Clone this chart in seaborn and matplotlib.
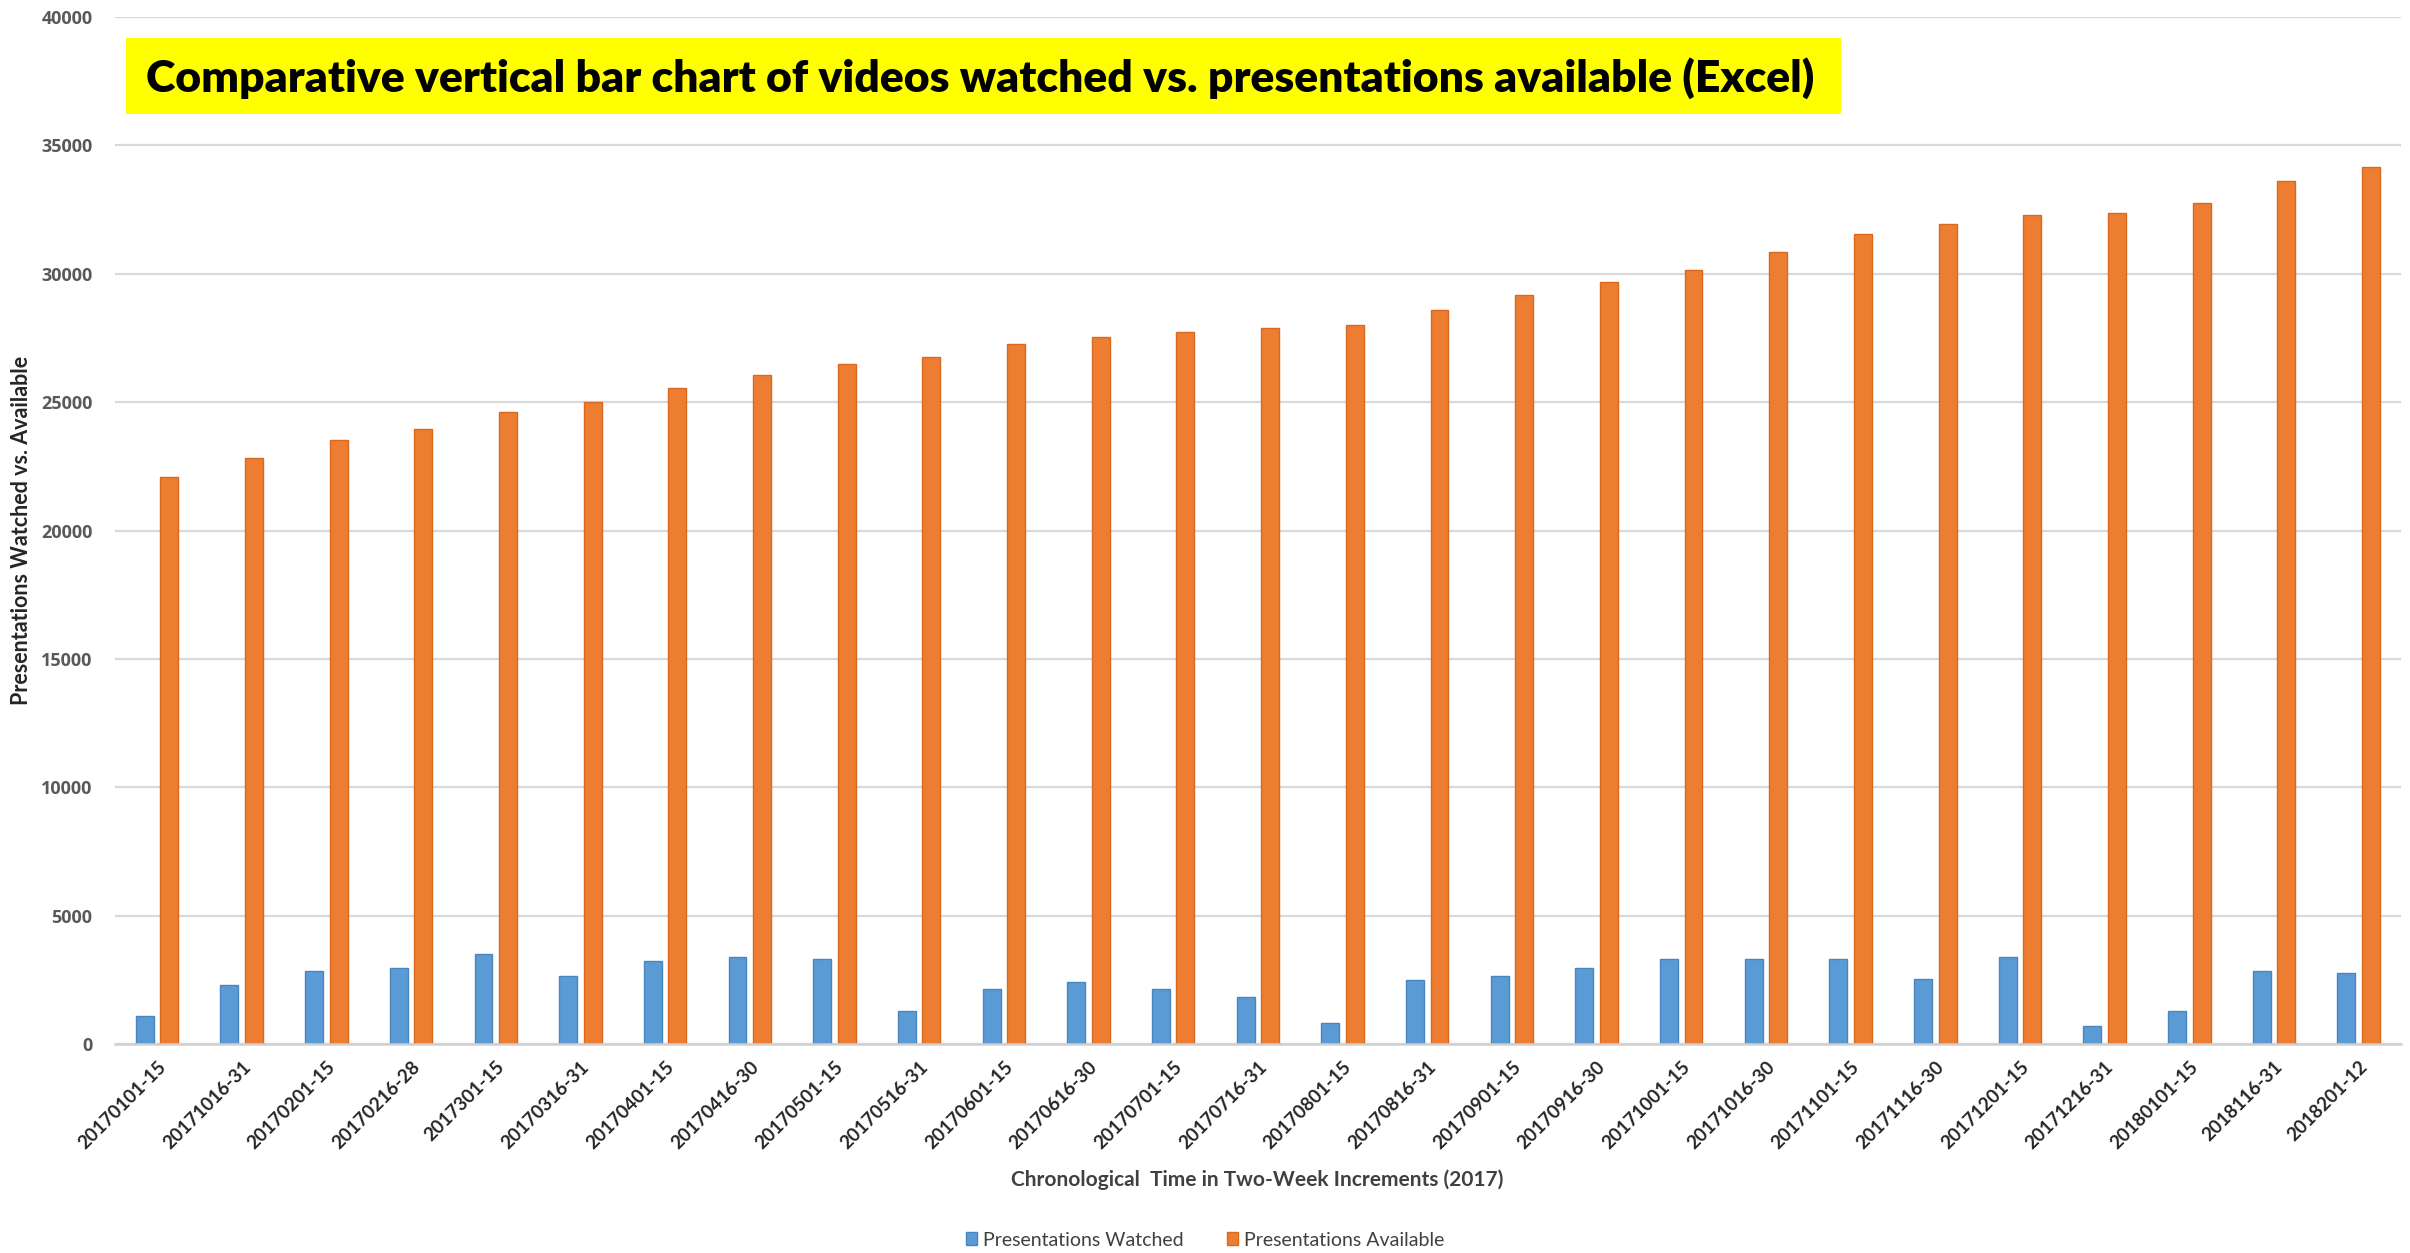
import matplotlib
matplotlib.use("Agg")
import matplotlib.pyplot as plt
import matplotlib.patches as mpatches
import seaborn as sns
import pandas as pd

periods = ["20170101-15", "20171016-31", "20170201-15", "20170216-28", "2017301-15",
           "20170316-31", "20170401-15", "20170416-30", "20170501-15", "20170516-31",
           "20170601-15", "20170616-30", "20170701-15", "20170716-31", "20170801-15",
           "20170816-31", "20170901-15", "20170916-30", "20171001-15", "20171016-30",
           "20171101-15", "20171116-30", "20171201-15", "20171216-31", "20180101-15",
           "2018116-31", "2018201-12"]
watched = [1110, 2280, 2840, 2950, 3515, 2630, 3240, 3385, 3320, 1300,
           2135, 2410, 2135, 1850, 830, 2490, 2630, 2955, 3310, 3310,
           3310, 2550, 3385, 690, 1300, 2825, 2760]
available = [22070, 22825, 23515, 23935, 24620, 24990, 25535, 26066, 26485, 26770,
             27250, 27540, 27735, 27880, 28020, 28570, 29190, 29660, 30145, 30835,
             31530, 31935, 32290, 32370, 32775, 33600, 34165]
series_names = ["Presentations Watched", "Presentations Available"]
y_ticks = [0, 5000, 10000, 15000, 20000, 25000, 30000, 35000, 40000]

title_text = "Comparative vertical bar chart of videos watched vs. presentations available (Excel)"
x_label = "Chronological  Time in Two-Week Increments (2017)"
y_label = "Presentations Watched vs. Available"

df = pd.DataFrame({
    "Period": periods * 2,
    "Series": [series_names[0]] * len(periods) + [series_names[1]] * len(periods),
    "Value": watched + available,
})

sns.set_theme(style="white")
colors = {series_names[0]: "#5B9BD5", series_names[1]: "#ED7D31"}
edges = {series_names[0]: "#4A86BE", series_names[1]: "#D9691F"}

W, H = 2410, 1253
fig = plt.figure(figsize=(W / 100, H / 100), dpi=100)
ax = fig.add_axes([114.7 / W, 1 - 1044 / H, (2401 - 114.7) / W, (1044 - 17) / H])

sns.barplot(data=df, x="Period", y="Value", hue="Series", palette=colors,
            width=0.58, gap=0.27, ax=ax, legend=False, saturation=1)
for cont, name in zip(ax.containers, series_names):
    for p in cont:
        p.set_edgecolor(edges[name])
        p.set_linewidth(1.0)

ax.set_ylim(0, 40000)
ax.set_xlim(-0.5, len(periods) - 0.5)
ax.set_yticks(y_ticks)
ax.set_yticklabels([str(v) for v in y_ticks])
ax.yaxis.grid(True, color="#D9D9D9", linewidth=1.6)
ax.set_axisbelow(True)
for s in ["top", "right", "left"]:
    ax.spines[s].set_visible(False)
ax.spines["bottom"].set_color("#D0D0D0")
ax.spines["bottom"].set_linewidth(1.8)
ax.set_xlabel("")
ax.set_ylabel("")

ax.tick_params(axis="y", length=0, pad=16)
ax.tick_params(axis="x", length=0, pad=10)
for lab in ax.get_yticklabels():
    lab.set_fontfamily("Open Sans")
    lab.set_fontweight("bold")
    lab.set_fontsize(13)
    lab.set_color("#595959")
for lab in ax.get_xticklabels():
    lab.set_fontfamily("Lato")
    lab.set_fontweight("bold")
    lab.set_fontsize(13.5)
    lab.set_color("#262626")
    lab.set_rotation(45)
    lab.set_ha("right")
    lab.set_va("top")
    lab.set_rotation_mode("anchor")

# title box
fig.patches.append(mpatches.Rectangle((126 / W, 1 - 114 / H), (1841 - 126) / W, 76 / H,
                                      transform=fig.transFigure, facecolor="#FFFF00",
                                      edgecolor="none", zorder=3))
fig.text(146 / W, 1 - 78 / H, title_text, fontsize=32, fontweight="heavy",
         family=["Lato", "DejaVu Sans"], color="black",
         ha="left", va="center", zorder=4)

fig.text(1257 / W, 1 - 1180 / H, x_label, fontsize=15, fontweight="bold",
         family=["Lato", "DejaVu Sans"], color="#404040", ha="center", va="center")
fig.text(22 / W, 1 - 530 / H, y_label, fontsize=15.5, fontweight="bold", rotation=90,
         family=["Lato", "DejaVu Sans"], color="#262626",
         ha="center", va="center")

handles = [mpatches.Patch(facecolor=colors[n], edgecolor=edges[n], label=n) for n in series_names]
fig.legend(handles=handles, loc="center", bbox_to_anchor=(1205 / W, 1 - 1240 / H), ncol=2,
           frameon=False, prop={"family": "Lato", "size": 14},
           handlelength=0.6, handleheight=0.6, handletextpad=0.3, columnspacing=2.2,
           labelcolor="#404040")

fig.savefig("out.png", dpi=100)
